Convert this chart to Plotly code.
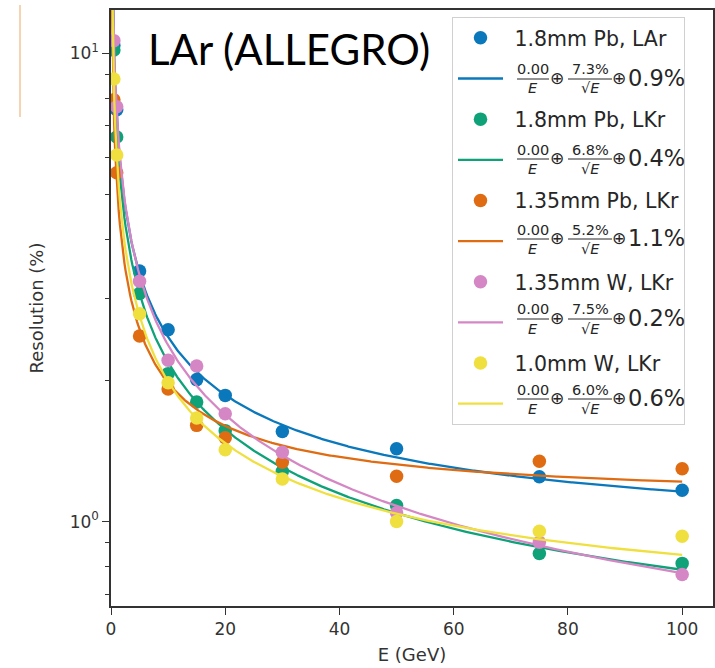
import numpy as np
import plotly.graph_objects as go

# ---------------- data ----------------
energy = [0.5, 1, 5, 10, 15, 20, 30, 50, 75, 100]

labels = ["1.8mm Pb, LAr", "1.8mm Pb, LKr", "1.35mm Pb, LKr", "1.35mm W, LKr", "1.0mm W, LKr"]

res_pb18_lar = [10.4, 7.58, 3.43, 2.57, 2.01, 1.86, 1.558, 1.43, 1.246, 1.166]
res_pb18_lkr = [10.17, 6.63, 3.07, 2.07, 1.80, 1.564, 1.28, 1.082, 0.855, 0.814]
res_pb135_lkr = [7.96, 5.56, 2.49, 1.92, 1.605, 1.51, 1.339, 1.249, 1.345, 1.296]
res_w135_lkr = [10.65, 7.69, 3.26, 2.21, 2.15, 1.70, 1.406, 1.044, 0.903, 0.771]
res_w10_lkr = [8.82, 6.07, 2.78, 1.98, 1.665, 1.424, 1.233, 1.0, 0.953, 0.930]

# fit parameters shown in the legend: noise/E (+) stoch/sqrt(E) (+) const
fit_noise = [0.00, 0.00, 0.00, 0.00, 0.00]
fit_stoch = [7.3, 6.8, 5.2, 7.5, 6.0]
fit_const = [0.9, 0.4, 1.1, 0.2, 0.6]

x_ticks = [0, 20, 40, 60, 80, 100]
y_ticks = [1, 10]
y_ticktext = ["10<sup>0</sup>", "10<sup>1</sup>"]
y_minor = [0.7, 0.8, 0.9, 2, 3, 4, 5, 6, 7, 8, 9]

series = [res_pb18_lar, res_pb18_lkr, res_pb135_lkr, res_w135_lkr, res_w10_lkr]
colors = ["#0a78bb", "#0fa278", "#df6c12", "#d487c4", "#efe040"]

# ---------------- figure ----------------
W, H = 715, 668
ML, MR, MT, MB = 111, 2, 10, 62
PW, PH = W - ML - MR, H - MT - MB


def px2paper(px, py):
    return (px - ML) / PW, (H - MB - py) / PH


fig = go.Figure()
e_model = np.linspace(0.15, 100, 500)
for i, (lab, vals, col) in enumerate(zip(labels, series, colors)):
    fig.add_trace(go.Scatter(
        x=energy, y=vals, mode="markers", name="\u00a0" + lab, legendgroup=f"m{i}",
        marker=dict(size=13.5, color=col, line=dict(width=0)),
    ))
    model = np.sqrt((fit_noise[i] / e_model) ** 2 + fit_stoch[i] ** 2 / e_model + fit_const[i] ** 2)
    fig.add_trace(go.Scatter(
        x=e_model, y=model, mode="lines", name=" ", legendgroup=f"l{i}",
        line=dict(color=col, width=2.3),
    ))

FONT = "DejaVu Sans"
TXT = "#262626"
axis_common = dict(
    showline=True, linecolor="#333333", linewidth=1.5, mirror=True,
    showgrid=False, zeroline=False, ticks="outside", tickcolor="#333333",
    tickwidth=1.3, ticklen=7, tickfont=dict(family=FONT, size=17, color="#333333"),
)

fig.update_layout(
    width=W, height=H,
    margin=dict(l=ML, r=MR, t=MT, b=MB, autoexpand=False),
    paper_bgcolor="white", plot_bgcolor="white",
    xaxis=dict(range=[0, 105.4], tickvals=x_ticks,
               title=dict(text="E (GeV)", font=dict(family=FONT, size=18, color="#333333"), standoff=10),
               **axis_common),
    yaxis=dict(type="log", range=[-0.1804, 1.0928], tickvals=y_ticks, ticktext=y_ticktext,
               minor=dict(tickvals=y_minor, ticks="outside", ticklen=4, tickcolor="#333333", tickwidth=1.1),
               title=dict(text="Resolution (%)", font=dict(family=FONT, size=18, color="#333333"), standoff=21),
               **axis_common),
    showlegend=True,
    legend=dict(
        x=(452 - ML) / PW, y=(H - MB - 17) / PH, xanchor="left", yanchor="top",
        bgcolor="rgba(255,255,255,0)", bordercolor="#d0d0d0", borderwidth=1,
        font=dict(family=FONT, size=20.5, color=TXT),
        tracegroupgap=11, itemwidth=45,
    ),
)

# title text
tx, ty = px2paper(146, 49)
fig.add_annotation(x=tx, y=ty, xref="paper", yref="paper", text="LAr (ALLEGRO)",
                   showarrow=False, xanchor="left", yanchor="middle",
                   font=dict(family="Lato", size=42, color="black"))

# fit formulas drawn next to the legend line entries
row0, pitch = 37, 40
for i in range(len(labels)):
    cy = row0 + (2 * i + 1) * pitch
    bar_y = cy + 2
    pieces = [
        (533, f"{fit_noise[i]:.2f}", "<i>E</i>", 517, 549),
        (590, f"{fit_stoch[i]:.1f}%", "\u221a<i>E</i>", 568, 612),
    ]
    for cx, num, den, b0, b1 in pieces:
        ax_, ay_ = px2paper(cx, bar_y - 0.5)
        fig.add_annotation(x=ax_, y=ay_, xref="paper", yref="paper", text=num, showarrow=False,
                           xanchor="center", yanchor="bottom", borderpad=0,
                           font=dict(family=FONT, size=14.5, color=TXT))
        ax_, ay_ = px2paper(cx, bar_y + 0.5)
        fig.add_annotation(x=ax_, y=ay_, xref="paper", yref="paper", text=den, showarrow=False,
                           xanchor="center", yanchor="top", borderpad=0,
                           font=dict(family=FONT, size=14.5, color=TXT))
        x0p, yb = px2paper(b0, bar_y)
        x1p, _ = px2paper(b1, bar_y)
        fig.add_shape(type="line", xref="paper", yref="paper", x0=x0p, x1=x1p, y0=yb, y1=yb,
                      line=dict(color=TXT, width=1))
    for cx in (557, 619):
        ax_, ay_ = px2paper(cx, cy + 1)
        fig.add_annotation(x=ax_, y=ay_, xref="paper", yref="paper", text="\u2295", showarrow=False,
                           xanchor="center", yanchor="middle", borderpad=0,
                           font=dict(family=FONT, size=17, color=TXT))
    ax_, ay_ = px2paper(627, cy + 1)
    fig.add_annotation(x=ax_, y=ay_, xref="paper", yref="paper", text=f"{fit_const[i]:.1f}%",
                       showarrow=False, xanchor="left", yanchor="middle", borderpad=0,
                       font=dict(family=FONT, size=22.5, color=TXT))

# faint orange slide artefact at the far left
sx, sy0 = px2paper(20, 5)
_, sy1 = px2paper(20, 117)
fig.add_shape(type="line", xref="paper", yref="paper", x0=sx, x1=sx, y0=sy0, y1=sy1,
              line=dict(color="#f5c697", width=1.5))

fig.write_html("out.html", config={"displayModeBar": False},
               post_script="document.body.style.margin='0';document.body.style.padding='0';")
